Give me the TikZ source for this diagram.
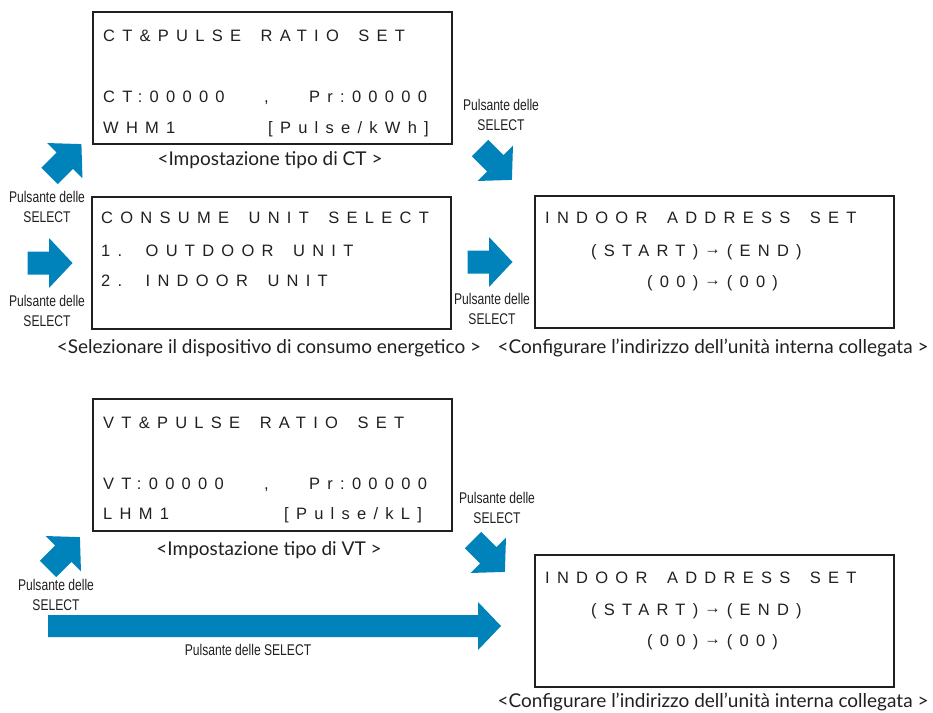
\documentclass[tikz,border=0pt]{standalone}
\usepackage{fontspec}
\setmainfont{Liberation Sans}
% tracked sans for the display screens, with wide word gaps
\newfontfamily\lcdfont[LetterSpace=44,WordSpace=1.65]{Liberation Sans}
% caption face
\newfontfamily\capfont{Lato}
% condensed face for the button labels
\newfontfamily\btnfont[FakeStretch=0.78]{Liberation Sans}

\definecolor{arrowblue}{RGB}{0,131,186}
\definecolor{ink}{RGB}{35,31,32}

% small arrow between the address fields, lifted to mid-cap height,
% with the tracking gaps that the box would otherwise swallow
\newcommand{\addrto}{\kern6pt\raisebox{1.5pt}{→}\kern6pt}

\tikzset{
  screen/.style={draw=ink, line width=2pt, minimum width=359pt, minimum height=132pt, inner sep=0pt},
  lcd/.style={anchor=base west, inner sep=0pt, text=ink, font=\lcdfont\fontsize{16.5}{18}\selectfont},
  caption/.style={inner sep=0pt, text=ink, font=\capfont\fontsize{19}{22}\selectfont},
  btnlabel/.style={inner sep=0pt, align=center, text=ink, font=\btnfont\fontsize{15.5}{20}\selectfont},
  selarrow/.pic={
    \fill[arrowblue] (-22.5,-11.5) -- (-1,-11.5) -- (-1,-25) -- (22.5,0)
      -- (-1,25) -- (-1,11.5) -- (-22.5,11.5) -- cycle;
  }
}

\begin{document}
\begin{tikzpicture}[x=1pt, y=-1pt]
\useasboundingbox (0,0) rectangle (933,712);

% ---------- upper row ----------
\node[screen] (ctbox) at (272.5,77.5) {};
\node[lcd] (ct1) at (103,41) {CT\&PULSE RATIO SET};
\node[lcd] (ct2a) at (103,102) {CT:00000};
\node[lcd] (ct2b) at (264,102) {,};
\node[lcd] (ct2c) at (309,102) {Pr:00000};
\node[lcd] (ct3a) at (103,133) {WHM1};
\node[lcd] (ct3b) at (268,133) {[Pulse/kWh]};
\node[caption] (ctcap) at (270,160) {<Impostazione tipo di CT >};

\node[screen] (cubox) at (271,262.5) {};
\node[lcd] (cu1) at (101,223) {CONSUME UNIT SELECT};
\node[lcd] (cu2) at (101,256) {1. OUTDOOR UNIT};
\node[lcd] (cu3) at (101,286) {2. INDOOR UNIT};
\node[caption] (cucap) at (269,348) {<Selezionare il dispositivo di consumo energetico >};

\node[screen] (inbox) at (714,262) {};
\node[lcd] (in1) at (545,223) {INDOOR ADDRESS SET};
\node[lcd] (in2) at (591,256) {(START)\addrto(END)};
\node[lcd] (in3) at (647,287) {(00)\addrto(00)};
\node[caption] (incap) at (713,348) {<Configurare l’indirizzo dell’unità interna collegata >};

\node[btnlabel] (b1) at (47,207) {Pulsante delle\\SELECT};
\node[btnlabel] (b2) at (47,311) {Pulsante delle\\SELECT};
\node[btnlabel] (b3) at (501,114.5) {Pulsante delle\\SELECT};
\node[btnlabel] (b4) at (492,309) {Pulsante delle\\SELECT};

\pic[rotate=45] at (65.5,160) {selarrow};
\pic at (50,263) {selarrow};
\pic[rotate=-45] at (496,164) {selarrow};
\pic at (490,262) {selarrow};

% ---------- lower row ----------
\node[screen] (vtbox) at (272.5,465) {};
\node[lcd] (vt1) at (103,428) {VT\&PULSE RATIO SET};
\node[lcd] (vt2a) at (103,489) {VT:00000};
\node[lcd] (vt2b) at (264,489) {,};
\node[lcd] (vt2c) at (309,489) {Pr:00000};
\node[lcd] (vt3a) at (103,519) {LHM1};
\node[lcd] (vt3b) at (284,519) {[Pulse/kL]};
\node[caption] (vtcap) at (269,550) {<Impostazione tipo di VT >};

\node[screen] (inbox2) at (714,621) {};
\node[lcd] (in21) at (545,583) {INDOOR ADDRESS SET};
\node[lcd] (in22) at (591,615) {(START)\addrto(END)};
\node[lcd] (in23) at (647,646) {(00)\addrto(00)};
\node[caption] (incap2) at (713,702) {<Configurare l’indirizzo dell’unità interna collegata >};

\node[btnlabel] (b5) at (56,595) {Pulsante delle\\SELECT};
\node[btnlabel] (b6) at (497,508) {Pulsante delle\\SELECT};
\node[btnlabel] (b7) at (248,650) {Pulsante delle SELECT};

\pic[rotate=45] at (64,553) {selarrow};
\pic[rotate=-45] at (489,556) {selarrow};

% long skip arrow
\fill[arrowblue] (48,615) -- (478,615) -- (478,602) -- (501,626)
  -- (478,650) -- (478,637) -- (48,637) -- cycle;
\end{tikzpicture}
\end{document}
